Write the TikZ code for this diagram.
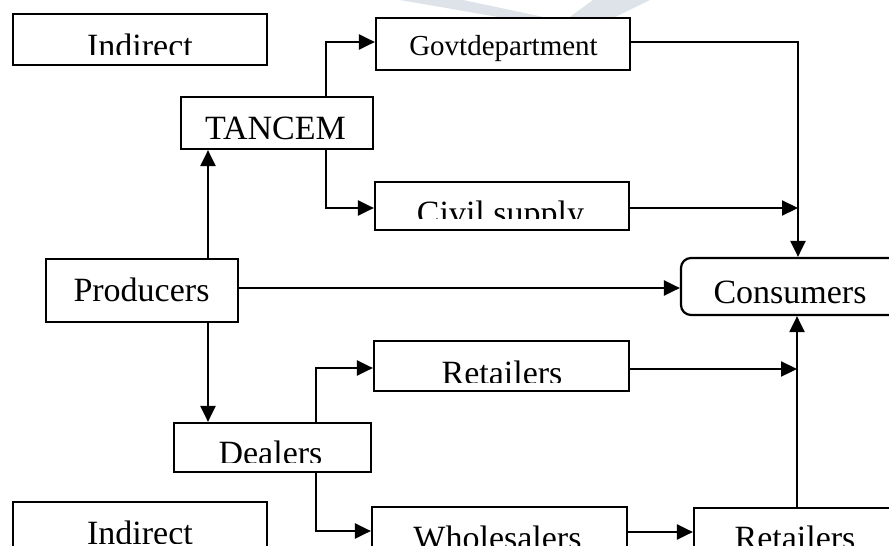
\documentclass[tikz,border=0pt]{standalone}
\usepackage{fontspec}
\setmainfont{Liberation Serif}
\usetikzlibrary{arrows.meta}
\definecolor{wmark}{RGB}{221,227,232}
\begin{document}
\begin{tikzpicture}[x=1pt,y=-1pt,
  box/.style={draw,line width=2.2pt,inner sep=0pt,fill=white},
  lbl/.style={anchor=base,inner sep=0pt,font=\fontsize{34pt}{40pt}\selectfont},
  conn/.style={line width=2.2pt,-{Triangle[length=16pt,width=15pt]}}]
\clip (0,0) rectangle (889,546);
\fill[white] (0,0) rectangle (889,546);
% watermark
\fill[wmark] (400,0) -- (463,0) -- (567,22) -- (527,22) -- cycle;
\fill[wmark] (593,0) -- (650,0) -- (605,22) -- (563,22) -- cycle;
% boxes
\node[box,minimum width=254pt,minimum height=51pt] (ind1) at (140,39.5) {};
\node[box,minimum width=254pt,minimum height=52pt] (govt) at (503,44) {};
\node[box,minimum width=192pt,minimum height=52pt] (tancem) at (277,123) {};
\node[box,minimum width=254pt,minimum height=48pt] (civil) at (502,206) {};
\node[box,minimum width=192pt,minimum height=63pt] (prod) at (142,290.5) {};
\node[box,rounded corners=10pt,minimum width=219pt,minimum height=57pt] (cons) at (790.5,286.5) {};
\node[box,minimum width=255pt,minimum height=50pt] (ret1) at (501.5,366) {};
\node[box,minimum width=197pt,minimum height=49pt] (deal) at (272.5,447.5) {};
\node[box,minimum width=254pt,minimum height=58pt] (ind2) at (140,531) {};
\node[box,minimum width=255pt,minimum height=63pt] (whole) at (499.5,538.5) {};
\node[box,minimum width=206pt,minimum height=62pt] (ret2) at (797,539) {};
% texts
\begin{scope}
  \clip (13,14) rectangle (267,54.5);
  \node[lbl] (tind1) at (140,57) {Indirect};
\end{scope}
\node[lbl,font=\fontsize{29pt}{35pt}\selectfont] (tgovt) at (503.5,55) {Govtdepartment};
\node[lbl] (ttancem) at (275.5,139.5) {TANCEM};
\begin{scope}
  \clip (375,182) rectangle (629,218);
  \node[lbl] (tcivil) at (500.5,224.5) {Civil supply};
\end{scope}
\node[lbl] (tprod) at (141.5,301.5) {Producers};
\node[lbl] (tcons) at (790,303) {Consumers};
\begin{scope}
  \clip (374,341) rectangle (629,382);
  \node[lbl] (tret1) at (502,384.5) {Retailers};
\end{scope}
\begin{scope}
  \clip (174,423) rectangle (371,462);
  \node[lbl] (tdeal) at (270.5,464.5) {Dealers};
\end{scope}
\begin{scope}
  \clip (13,502) rectangle (267,543);
  \node[lbl] (tind2) at (140,544.5) {Indirect};
\end{scope}
\node[lbl] (twhole) at (497.5,549.5) {Wholesalers};
\node[lbl] (tret2) at (795,549.5) {Retailers};
% connector coordinates
\coordinate (px) at (208,290);
\coordinate (jT) at (326,42);
\coordinate (jC) at (326,208);
\coordinate (jG) at (798,42);
\coordinate (jCv) at (798,208);
\coordinate (jP) at (400,288);
\coordinate (jD1) at (316,368);
\coordinate (jR1) at (797,369);
\coordinate (jD2) at (316,531);
\coordinate (jW) at (660,532);
% connectors
\draw[conn] (prod.north -| px) -- (tancem.south -| px);
\draw[conn] (prod.south -| px) -- (deal.north -| px);
\draw[conn] (tancem.north -| jT) -- (jT) -- (jT -| govt.west);
\draw[conn] (tancem.south -| jC) -- (jC) -- (jC -| civil.west);
\draw[conn] (govt.east |- jG) -- (jG) -- (cons.north -| jG);
\draw[conn] (civil.east |- jCv) -- (jCv);
\draw[conn] (prod.east |- jP) -- (cons.west |- jP);
\draw[conn] (deal.north -| jD1) -- (jD1) -- (jD1 -| ret1.west);
\draw[conn] (ret1.east |- jR1) -- (jR1);
\draw[conn] (deal.south -| jD2) -- (jD2) -- (jD2 -| whole.west);
\draw[conn] (whole.east |- jW) -- (ret2.west |- jW);
\draw[conn] (ret2.north -| jR1) -- (cons.south -| jR1);
\end{tikzpicture}
\end{document}
